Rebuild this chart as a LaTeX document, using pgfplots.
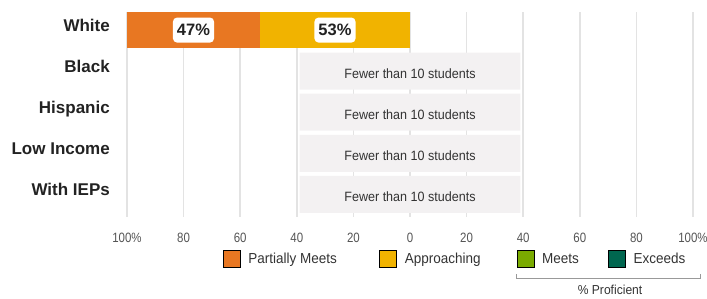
\documentclass[border=0pt]{standalone}
\usepackage{pgfplots}
\pgfplotsset{compat=1.18}
\usepackage{fontspec}
\setmainfont{Liberation Sans}
\newfontfamily\narrowfont{Liberation Sans}[FakeStretch=0.93]
\newfontfamily\tickfont{Liberation Sans}[FakeStretch=0.85]
\definecolor{pm}{HTML}{E87722}
\definecolor{ap}{HTML}{F1B300}
\definecolor{me}{HTML}{7AAB00}
\definecolor{ex}{HTML}{00664F}
\definecolor{boxgray}{HTML}{F3F1F2}
\definecolor{gridgray}{HTML}{E3E3E3}
\definecolor{txt}{HTML}{222222}
\definecolor{ticktxt}{HTML}{555555}
\definecolor{legtxt}{HTML}{333333}

\pgfplotsset{base/.style={
  width=566pt, height=205pt, scale only axis,
  xmin=-100, xmax=100, ymin=-0.44, ymax=4.55, y dir=reverse,
  at={(0pt,0pt)}, anchor=south west,
}}

\begin{document}
\begin{tikzpicture}
\useasboundingbox (-127pt,-82pt) rectangle (580pt,217pt);
% background axis: grid, tick labels, stacked bar for White
\begin{axis}[base,
  axis line style={draw=none},
  xtick={-100,-80,-60,-40,-20,0,20,40,60,80,100},
  xticklabels={100\%,80,60,40,20,0,20,40,60,80,100\%},
  xmajorgrids,
  major grid style={gridgray, line width=1.5pt},
  major tick length=0pt,
  ytick={0,1,2,3,4},
  yticklabels={White,Black,Hispanic,Low Income,With IEPs},
  yticklabel style={font=\fontsize{17}{20}\selectfont\bfseries, text=txt,
    anchor=base east, inner sep=0pt, xshift=-17pt, yshift=-1pt},
  xticklabel style={font=\tickfont\fontsize{13.5}{15}\selectfont, text=ticktxt,
    anchor=base, inner sep=0pt, yshift=-26pt},
  extra x ticks={-100},
  extra x tick labels={},
  extra x tick style={grid style={color=black!35, line width=2pt}},
  xbar stacked, bar width=36pt,
]
\addplot[fill=ap, draw=none] coordinates {(-53,0)};
\addplot[fill=pm, draw=none] coordinates {(-47,0)};
\end{axis}
% overlay axis: boxes, labels, legend
\begin{axis}[base,
  hide axis, clip=false,
  legend image code/.code={\fill[#1] (0pt,-8.5pt) rectangle (17pt,8.5pt);},
  legend columns=4,
  legend style={at={(0.1696,-0.2049)}, anchor=west, draw=none, fill=none,
    inner sep=0pt, outer sep=0pt,
    font=\narrowfont\fontsize{14.5}{16}\selectfont, text=legtxt,
    nodes={inner sep=0pt, outer sep=0pt},
    /tikz/every odd column/.append style={column sep=8pt},
    /tikz/every even column/.append style={column sep=0pt}},
  legend cell align=left,
]
\addplot[xbar, bar width=37pt, bar shift=0pt, fill=boxgray, draw=none, forget plot]
  coordinates {(39,1) (39,2) (39,3) (39,4)};
\addplot[xbar, bar width=37pt, bar shift=0pt, fill=boxgray, draw=none, forget plot]
  coordinates {(-39,1) (-39,2) (-39,3) (-39,4)};
\addplot[draw=none, mark=none, forget plot, point meta=explicit symbolic,
  nodes near coords,
  every node near coord/.append style={anchor=base, yshift=-7.5pt,
    font=\narrowfont\fontsize{13.5}{15}\selectfont, text=legtxt}]
  coordinates {(0,1) [Fewer than 10 students] (0,2) [Fewer than 10 students]
               (0,3) [Fewer than 10 students] (0,4) [Fewer than 10 students]};
\addplot[draw=none, mark=none, forget plot, point meta=explicit symbolic,
  nodes near coords,
  every node near coord/.append style={anchor=center, fill=white,
    rounded corners=4pt, inner xsep=4pt, inner ysep=0pt,
    minimum height=25pt, text height=11.8pt, text depth=0pt,
    font=\fontsize{16.5}{18}\selectfont\bfseries, text=txt}]
  coordinates {(-76.5,0) [47\%] (-26.5,0) [53\%]};
\addlegendimage{fill=pm}
\addlegendentry{\makebox[131pt][l]{Partially Meets}}
\addlegendimage{fill=ap}
\addlegendentry{\makebox[112pt][l]{Approaching}}
\addlegendimage{fill=me}
\addlegendentry{\makebox[66pt][l]{Meets}}
\addlegendimage{fill=ex}
\addlegendentry{Exceeds}
\draw[black!40, line width=1pt] (axis cs:37.5,5.94) -- (axis cs:37.5,6.05)
  -- (axis cs:102.8,6.05) -- (axis cs:102.8,5.94);
\node[font=\narrowfont\fontsize{13}{14}\selectfont, text=legtxt, inner sep=0pt]
  at (axis cs:70.7,6.32) {\% Proficient};
\end{axis}
\end{tikzpicture}
\end{document}
